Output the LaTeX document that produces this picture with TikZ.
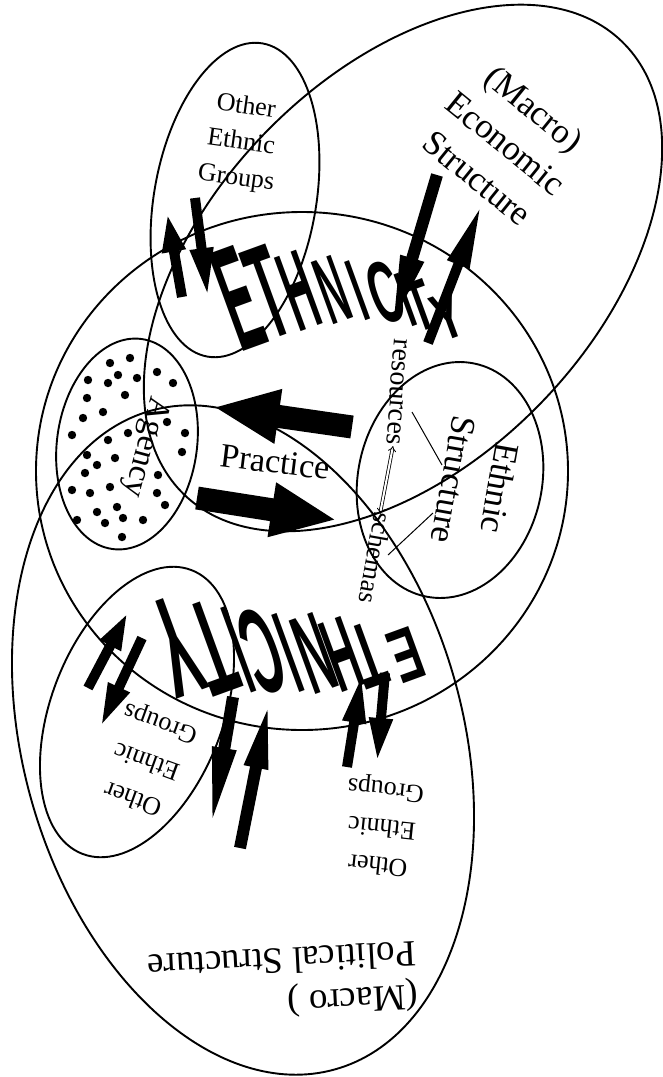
\documentclass[tikz,border=0pt]{standalone}
\usepackage{fontspec}
\setmainfont{Liberation Serif}
\newfontfamily\blockfont{Liberation Sans}
\usetikzlibrary{arrows.meta}
\tikzset{
  rim/.style={line width=1.9pt},
  bigarrow/.style={line width=23pt,-{Triangle[length=66pt,width=50pt]}},
  pairarrow/.style={line width=10pt,-{Triangle[length=#1,width=21pt]}},
  ethtop/.style={rotate=20,anchor=south,inner sep=0pt},
  ethbot/.style={rotate=200,anchor=south,inner sep=0pt},
  tag/.style={inner sep=0pt,align=center}
}
\newcommand{\ethletter}[3]{\resizebox{#2pt}{#3pt}{\blockfont\bfseries #1}}

\begin{document}
\begin{tikzpicture}[x=1pt,y=-1pt]
\useasboundingbox (0,0) rectangle (663,1077);
\draw[rim] (403,268) ellipse[x radius=315,y radius=193,rotate=46];
\draw[rim] (243,740) ellipse[x radius=220,y radius=342,rotate=15.6];
\draw[rim] (302,471) ellipse[x radius=266,y radius=259];
\draw[rim] (235,200) ellipse[x radius=81,y radius=159,rotate=-10];
\draw[rim] (137,712) ellipse[x radius=86,y radius=152,rotate=-21];
\draw[rim] (450,480) ellipse[x radius=92,y radius=119,rotate=-12];
\draw[rim] (127,444) ellipse[x radius=70,y radius=106,rotate=-8];
\foreach \x/\y in {130/358,110/363,118/375,88/380,108/383,137/378,157/372,173/383,125/395,87/398,
  103/412,83/418,167/422,72/435,108/440,128/433,185/433,182/452,87/455,115/458,97/465,85/473,
  158/475,110/487,72/490,90/493,157/493,165/505,117/507,97/512,77/520,123/518,143/520,105/523,122/537}
  \fill (\x,\y) circle[radius=4.2];
\node[tag,rotate=-39,font=\fontsize{35}{45}\selectfont] (econ) at (506,143) {(Macro)\\Economic\\Structure};
\node[tag,rotate=-100,font=\fontsize{35}{47}\selectfont] (ethstruct) at (477,484) {Ethnic\\Structure};
\node[tag,rotate=183,align=left,font=\fontsize{37}{44}\selectfont] (polit) at (283,983) {(Macro )\\Political Structure};
\node[tag,rotate=-8,font=\fontsize{26}{36}\selectfont] (othertop) at (241,143) {Other\\Ethnic\\Groups};
\node[tag,rotate=160,font=\fontsize{26}{40}\selectfont] (otherleft) at (147,760) {Other\\Ethnic\\Groups};
\node[tag,rotate=174,font=\fontsize{26}{38}\selectfont] (otherright) at (382,826) {Other\\Ethnic\\Groups};
\node[tag,rotate=-7,font=\fontsize{34}{40}\selectfont] (practice) at (275,462) {Practice};
\node[tag,rotate=-105,font=\fontsize{33}{40}\selectfont] (agency) at (145,447) {Agency};
\node[tag,rotate=-94,font=\fontsize{28}{32}\selectfont] (res) at (397,392) {resources};
\node[tag,rotate=-100,font=\fontsize{27}{32}\selectfont] (sch) at (376,558) {schemas};
\foreach \ch/\x/\y/\w/\h [count=\i] in {E/256/347/33/103,T/284/336/30/92,H/312/328/29/78,N/344/321/26/66,
  I/368/320/10/62,C/396/322/30/62,I/415/326/10/55,T/429/330/24/50,Y/456/338/28/46}
  \node[ethtop] (up\i) at (\x,\y) {\ethletter{\ch}{\w}{\h}};
\foreach \ch/\x/\y/\w/\h [count=\i] in {E/397/630/30/52,T/357/625/28/64,H/329/620/30/72,N/301/617/31/78,
  I/274/614/11/82,C/247/610/34/86,I/223/607/11/90,T/196/603/34/94,Y/160/600/38/99}
  \node[ethbot] (down\i) at (\x,\y) {\ethletter{\ch}{\w}{\h}};
\coordinate (pushtail) at (352,427);
\coordinate (pushtip) at (213,407);
\coordinate (pulltail) at (197,498);
\coordinate (pulltip) at (337,520);
\draw[bigarrow] (pushtail) -- (pushtip);
\draw[bigarrow] (pulltail) -- (pulltip);
\coordinate (tlupA) at (182,297);
\coordinate (tlupB) at (167,212);
\coordinate (tldnA) at (195,198);
\coordinate (tldnB) at (208,298);
\coordinate (trdnA) at (437,175);
\coordinate (trdnB) at (390,333);
\coordinate (trupA) at (428,343);
\coordinate (trupB) at (482,203);
\coordinate (blupA) at (88,688);
\coordinate (blupB) at (128,612);
\coordinate (bldnA) at (142,638);
\coordinate (bldnB) at (100,728);
\coordinate (bcdnA) at (233,697);
\coordinate (bcdnB) at (210,833);
\coordinate (bcupA) at (240,848);
\coordinate (bcupB) at (270,697);
\coordinate (brupA) at (347,767);
\coordinate (brupB) at (362,673);
\coordinate (brdnA) at (385,673);
\coordinate (brdnB) at (377,763);
\draw[pairarrow=40pt] (tlupA) -- (tlupB);
\draw[pairarrow=50pt] (tldnA) -- (tldnB);
\draw[pairarrow=78pt,line width=12pt] (trdnA) -- (trdnB);
\draw[pairarrow=66pt] (trupA) -- (trupB);
\draw[pairarrow=38pt] (blupA) -- (blupB);
\draw[pairarrow=45pt] (bldnA) -- (bldnB);
\draw[pairarrow=86pt,line width=12pt] (bcdnA) -- (bcdnB);
\draw[pairarrow=72pt,line width=12pt] (bcupA) -- (bcupB);
\draw[pairarrow=50pt] (brupA) -- (brupB);
\draw[pairarrow=45pt] (brdnA) -- (brdnB);
\coordinate (resend) at (393,446);
\coordinate (schend) at (380,514);
\draw[line width=0.8pt,double distance=2pt,{Implies}-{Implies}] (resend) -- (schend);
\coordinate (linkA) at (412,412);
\coordinate (linkB) at (442,465);
\coordinate (linkC) at (433,513);
\coordinate (linkD) at (388,555);
\draw[line width=1pt] (linkA) -- (linkB);
\draw[line width=1pt] (linkC) -- (linkD);
\end{tikzpicture}
\end{document}
